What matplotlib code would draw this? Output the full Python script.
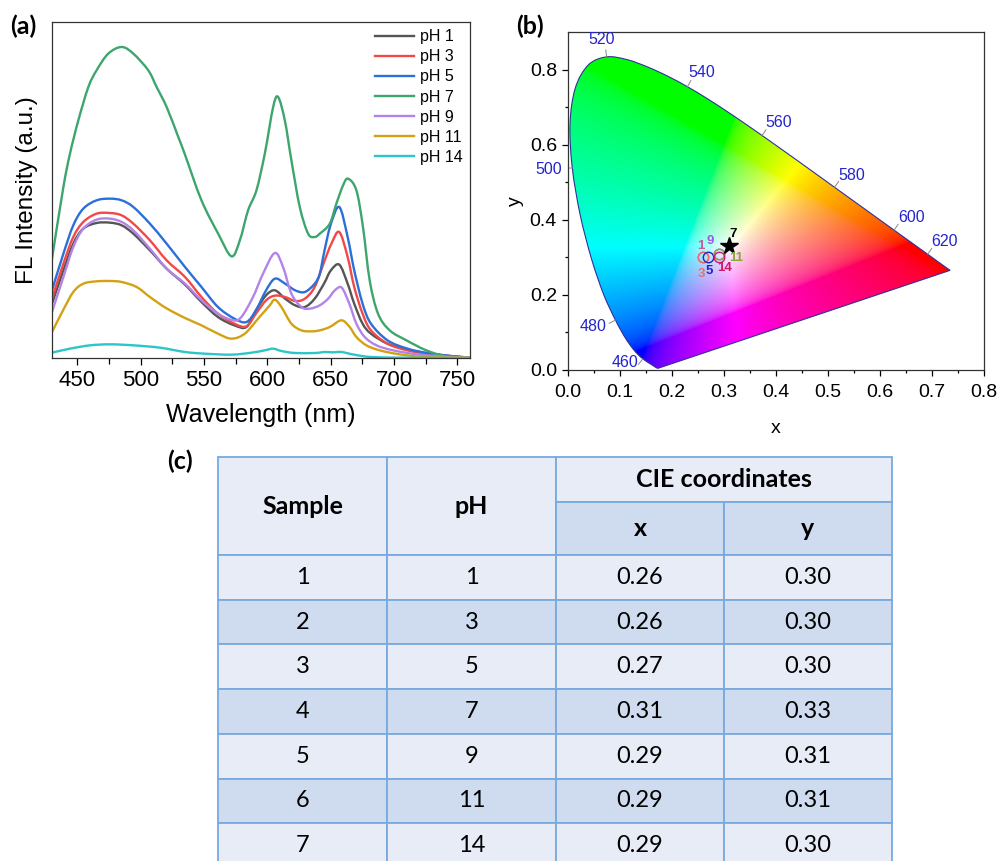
import numpy as np
import matplotlib.pyplot as plt
from matplotlib.patches import PathPatch, Rectangle
from matplotlib.path import Path

plt.rcParams['font.family'] = ['Liberation Sans', 'DejaVu Sans']

# ---------------- (a) FL spectra (arb. units) ----------------
wl_ph1 = [430, 439, 446.8, 454.7, 465.2, 475.8, 485, 494.2, 507.3, 520.5, 535, 548, 561, 574, 583.5, 591,
          599, 606, 614, 622, 629.6, 637.4, 645, 650, 656.8, 663.4, 668.6, 675.2, 681.8, 694.9, 710.7, 729.1, 752.8, 760]
int_ph1 = [163, 263, 343, 388, 405, 406, 398, 373, 323, 268, 220, 168, 123, 98, 93, 143,
           188, 203, 178, 158, 153, 178, 225, 262, 280, 223, 163, 103, 73, 43, 25, 13, 3, 2]

wl_ph3 = [430, 439, 446.8, 454.7, 465.2, 475.8, 485, 494.2, 507.3, 520.5, 535, 548, 561, 574, 583.5, 591,
          599, 606, 614, 622, 629.6, 637.4, 645, 650.6, 656.8, 663.4, 668.6, 675.2, 681.8, 694.9, 710.7, 729.1, 752.8, 760]
int_ph3 = [178, 283, 363, 408, 433, 435, 428, 403, 353, 293, 243, 183, 133, 103, 95, 133,
           173, 187, 183, 171, 178, 213, 290, 343, 378, 303, 213, 133, 83, 43, 23, 11, 3, 2]

wl_ph5 = [430, 439, 446.8, 454.7, 465.2, 475.8, 485, 494.2, 507.3, 520.5, 535, 548, 561, 574, 583.5, 591,
          599, 606, 614, 622, 629.6, 637.4, 641.4, 645, 650, 656.8, 663.4, 668.6, 675.2, 681.8, 694.9, 710.7,
          729.1, 752.8, 760]
int_ph5 = [203, 313, 398, 448, 473, 478, 473, 453, 403, 343, 273, 213, 153, 118, 108, 143,
           203, 238, 223, 203, 198, 223, 253, 320, 400, 453, 363, 263, 163, 103, 53, 28,
           13, 3, 2]

wl_ph7 = [430, 439, 444.2, 450.8, 458.7, 465.2, 474.4, 485, 494.2, 506, 512.6, 520.5, 529.7, 535, 548,
          561.2, 571.7, 578.3, 584.8, 591.4, 598, 604.6, 608.5, 613.8, 619, 625.6, 632.2, 637.4, 641.4,
          649.3, 654.5, 659.8, 663.7, 670.3, 675.5, 680.8, 687.4, 696.6, 709.8, 725.5, 741.3, 760]
int_ph7 = [298, 513, 613, 713, 813, 863, 913, 933, 913, 863, 813, 753, 663, 610, 473,
           373, 305, 353, 443, 503, 613, 753, 783, 713, 593, 453, 373, 363, 373,
           403, 463, 518, 538, 503, 393, 233, 133, 83, 53, 23, 5, 2]

wl_ph9 = [430, 439, 446.8, 454.7, 465.2, 475.8, 485, 494.2, 507.3, 520.5, 535, 548, 561, 573, 579.5,
          588.7, 596.6, 605.9, 612.4, 619, 626.9, 633.5, 641.4, 648, 653.3, 658.7, 664.7, 670.3, 676.9,
          686.2, 699.3, 720.4, 746.7, 760]
int_ph9 = [138, 243, 333, 388, 415, 418, 408, 383, 328, 268, 223, 173, 133, 113, 123,
           183, 253, 315, 273, 193, 153, 148, 158, 178, 203, 211, 163, 103, 63,
           38, 23, 10, 3, 2]

wl_ph11 = [430, 439, 446.8, 454.7, 465.2, 475.8, 485, 496.8, 507.3, 520, 535, 548, 561, 571.7, 582.2,
           592.7, 601.9, 605.9, 611.1, 619, 626.9, 634.8, 641.4, 649.3, 658.5, 665, 670.3, 678.2, 688.7,
           704.5, 725.5, 760]
int_ph11 = [78, 145, 198, 223, 230, 231, 228, 213, 183, 150, 120, 98, 73, 58, 73,
            118, 158, 175, 153, 103, 83, 80, 83, 93, 113, 93, 63, 38, 23,
            11, 3, 1]

wl_ph14 = [430, 444.2, 460, 475.8, 494.2, 515.2, 535, 550.6, 571.7, 587.5, 598, 604.6, 611.1, 621.7,
           637.4, 645.3, 652, 658.5, 668.6, 681.8, 708, 760]
int_ph14 = [16, 28, 38, 41, 38, 31, 18, 13, 10, 16, 23, 28, 21, 15,
            15, 18, 17, 18, 10, 3, 1, 0]

series_labels = ['pH 1', 'pH 3', 'pH 5', 'pH 7', 'pH 9', 'pH 11', 'pH 14']
series_colors = ['#555555', '#f24848', '#2b6fd8', '#3da56e', '#b483e6', '#d3a112', '#2cc5c9']

# ---------------- (b)/(c) CIE coordinates ----------------
samples = [1, 2, 3, 4, 5, 6, 7]
ph_values = [1, 3, 5, 7, 9, 11, 14]
cie_x = [0.26, 0.26, 0.27, 0.31, 0.29, 0.29, 0.29]
cie_y = [0.30, 0.30, 0.30, 0.33, 0.31, 0.31, 0.30]
point_colors = ['#c2609c', '#e8706a', '#2424bb', '#000000', '#9a5fd8', '#8aa838', '#cc1a6a']
label_offsets = [(-2, 8), (-1, -12), (0.5, -10), (3, 9), (-6, 9), (12.5, -3), (4, -8)]  # in points

# CIE 1931 spectral locus (nm, x, y)
locus_nm = [380, 385, 390, 395, 400, 405, 410, 415, 420, 425, 430, 435, 440, 445, 450, 455, 460, 465,
            470, 475, 480, 485, 490, 495, 500, 505, 510, 515, 520, 525, 530, 535, 540, 545, 550, 555,
            560, 565, 570, 575, 580, 585, 590, 595, 600, 605, 610, 615, 620, 625, 630, 635, 640, 645,
            650, 655, 660, 665, 670, 680, 700]
locus_x = [0.1741, 0.1740, 0.1738, 0.1736, 0.1733, 0.1730, 0.1726, 0.1721, 0.1714, 0.1703, 0.1689,
           0.1669, 0.1644, 0.1611, 0.1566, 0.1510, 0.1440, 0.1355, 0.1241, 0.1096, 0.0913, 0.0687,
           0.0454, 0.0235, 0.0082, 0.0039, 0.0139, 0.0389, 0.0743, 0.1142, 0.1547, 0.1929, 0.2296,
           0.2658, 0.3016, 0.3373, 0.3731, 0.4087, 0.4441, 0.4788, 0.5125, 0.5448, 0.5752, 0.6029,
           0.6270, 0.6482, 0.6658, 0.6801, 0.6915, 0.7006, 0.7079, 0.7140, 0.7190, 0.7230, 0.7260,
           0.7283, 0.7300, 0.7311, 0.7320, 0.7334, 0.7347]
locus_y = [0.0050, 0.0050, 0.0049, 0.0049, 0.0048, 0.0048, 0.0048, 0.0048, 0.0051, 0.0058, 0.0069,
           0.0086, 0.0109, 0.0138, 0.0177, 0.0227, 0.0297, 0.0399, 0.0578, 0.0868, 0.1327, 0.2007,
           0.2950, 0.4127, 0.5384, 0.6548, 0.7502, 0.8120, 0.8338, 0.8262, 0.8059, 0.7816, 0.7543,
           0.7243, 0.6923, 0.6589, 0.6245, 0.5896, 0.5547, 0.5202, 0.4866, 0.4544, 0.4242, 0.3965,
           0.3725, 0.3514, 0.3340, 0.3197, 0.3083, 0.2993, 0.2920, 0.2859, 0.2809, 0.2770, 0.2740,
           0.2717, 0.2700, 0.2689, 0.2680, 0.2666, 0.2653]
marked_nm = [460, 480, 500, 520, 540, 560, 580, 600, 620]
marked_label_xy = [(0.110, 0.021), (0.048, 0.117), (-0.038, 0.535), (0.065, 0.879), (0.258, 0.791),
                   (0.406, 0.658), (0.546, 0.519), (0.660, 0.405), (0.725, 0.341)]


def smooth_path(xs, ys, close=False):
    # draws a smooth curve through the given points (Catmull-Rom as cubic Bezier)
    P = np.column_stack([xs, ys]).astype(float)
    verts, codes = [P[0]], [Path.MOVETO]
    n = len(P)
    for i in range(n - 1):
        p0 = P[i - 1] if i > 0 else P[i]
        p1, p2 = P[i], P[i + 1]
        p3 = P[i + 2] if i + 2 < n else P[i + 1]
        verts += [p1 + (p2 - p0) / 6, p2 - (p3 - p1) / 6, p2]
        codes += [Path.CURVE4] * 3
    if close:
        verts.append(P[0])
        codes.append(Path.CLOSEPOLY)
    return Path(verts, codes)


W, H = 1002, 861
fig = plt.figure(figsize=(W / 100, H / 100), dpi=100)

# ================= (a) =================
ax = fig.add_axes([52 / W, 1 - 358 / H, 418 / W, 336 / H])
all_wl = [wl_ph1, wl_ph3, wl_ph5, wl_ph7, wl_ph9, wl_ph11, wl_ph14]
all_int = [int_ph1, int_ph3, int_ph5, int_ph7, int_ph9, int_ph11, int_ph14]
for wl, it, c, lab in zip(all_wl, all_int, series_colors, series_labels):
    ax.add_patch(PathPatch(smooth_path(wl, it), facecolor='none', edgecolor=c, lw=1.7, capstyle='round',
                           joinstyle='round'))
    ax.plot([], [], color=c, lw=1.7, label=lab)
ax.set_xlim(430, 760)
ax.set_ylim(0, 1008)
ax.set_yticks([])
ax.set_xticks(np.arange(450, 751, 50))
ax.set_xticks(np.arange(475, 751, 50), minor=True)
ax.tick_params(axis='x', which='major', direction='out', length=5, width=0.9, labelsize=16, pad=4)
ax.tick_params(axis='x', which='minor', direction='out', length=4, width=0.9)
for s in ax.spines.values():
    s.set_linewidth(0.9)
    s.set_color('#333333')
ax.set_xlabel('Wavelength (nm)', fontsize=18, labelpad=8)
ax.set_ylabel('FL Intensity (a.u.)', fontsize=17.5, labelpad=10)
ax.legend(loc='upper right', frameon=False, fontsize=11.5, handlelength=2.5, handletextpad=0.35,
          labelspacing=0.32, borderaxespad=0.15, borderpad=0.3)

# ================= (b) =================
bx = fig.add_axes([568 / W, 1 - 370 / H, 416 / W, 338 / H])
gx = np.linspace(0, 0.8, 500)
gy = np.linspace(0.0005, 0.9, 500)
GX, GY = np.meshgrid(gx, gy)
XYZ = np.stack([GX / GY, np.ones_like(GX), (1 - GX - GY) / GY], axis=-1)
M = np.array([[3.2406, -1.5372, -0.4986], [-0.9689, 1.8758, 0.0415], [0.0557, -0.2040, 1.0570]])
rgb = np.clip(XYZ @ M.T, 0, None)
rgb = rgb / np.maximum(rgb.max(axis=-1, keepdims=True), 1e-9)
rgb = np.where(rgb <= 0.0031308, 12.92 * rgb, 1.055 * np.power(rgb, 1 / 2.4) - 0.055)
img = bx.imshow(rgb, extent=(0, 0.8, 0, 0.9), origin='lower', aspect='auto', interpolation='bilinear')
locus = PathPatch(smooth_path(locus_x, locus_y, close=True), facecolor='none', edgecolor='#30309a', lw=0.8)
bx.add_patch(locus)
img.set_clip_path(locus)

# wavelength tick marks & labels
sx, sy = 520.0, 375.6  # px per data unit
lx, ly = np.array(locus_x), np.array(locus_y)
for nm, (tx, ty) in zip(marked_nm, marked_label_xy):
    i = locus_nm.index(nm)
    dx = (lx[i + 1] - lx[i - 1]) * sx
    dy = (ly[i + 1] - ly[i - 1]) * sy
    n = np.hypot(dx, dy)
    nx, ny = -dy / n, dx / n
    bx.plot([lx[i], lx[i] + nx * 7 / sx], [ly[i], ly[i] + ny * 7 / sy], color='#888888', lw=0.7)
    bx.text(tx, ty, str(nm), color='#2424cc', fontsize=11.5, ha='center', va='center', clip_on=False)

for k in range(len(samples)):
    if ph_values[k] == 7:
        bx.plot(cie_x[k], cie_y[k], marker='*', ms=13, color='black', mec='black', ls='none', zorder=5)
    else:
        bx.plot(cie_x[k], cie_y[k], marker='o', ms=7.5, mfc='none', mec=point_colors[k], mew=1.0,
                ls='none', zorder=4)
    bx.annotate(str(ph_values[k]), (cie_x[k], cie_y[k]), xytext=label_offsets[k], textcoords='offset points',
                color=point_colors[k], fontsize=9.5, fontweight='bold', ha='center', va='center', zorder=6)

bx.set_xlim(0, 0.8)
bx.set_ylim(0, 0.9)
bx.set_xticks(np.arange(0, 0.81, 0.1))
bx.set_xticks(np.arange(0.05, 0.8, 0.1), minor=True)
bx.set_yticks(np.arange(0, 0.81, 0.2))
bx.set_yticks(np.arange(0.1, 0.9, 0.2), minor=True)
bx.xaxis.set_major_formatter(plt.FormatStrFormatter('%.1f'))
bx.yaxis.set_major_formatter(plt.FormatStrFormatter('%.1f'))
bx.tick_params(which='major', direction='out', length=4, width=0.9, labelsize=14, pad=4)
bx.tick_params(axis='x', which='major', pad=6)
bx.tick_params(which='minor', direction='out', length=2.5, width=0.9)
for s in bx.spines.values():
    s.set_linewidth(0.9)
    s.set_color('#333333')
bx.set_xlabel('x', fontsize=14, labelpad=14)
bx.set_ylabel('y', fontsize=14, labelpad=4)

# panel labels
plab = dict(fontsize=18, fontweight='bold', family=['Lato', 'DejaVu Sans'], ha='center', va='center')
fig.text(23 / W, 1 - 26 / H, '(a)', **plab)
fig.text(530 / W, 1 - 26 / H, '(b)', **plab)
fig.text(180 / W, 1 - 461 / H, '(c)', **plab)

# ================= (c) table =================
col_x = [218, 387, 556, 724, 892]
head_y = [457, 502, 555]
row_h = 44.7
light, dark, edge = '#e8ecf6', '#cfdbee', '#78aadf'
tx_ = fig.add_axes([0, 0, 1, 1])
tx_.set_xlim(0, W)
tx_.set_ylim(H, 0)
tx_.axis('off')
hfont = dict(fontsize=18, fontweight='bold', family=['Lato', 'DejaVu Sans'], ha='center', va='center')
bfont = dict(fontsize=17, family=['Lato', 'DejaVu Sans'], ha='center', va='center')


def cell(x0, x1, y0, y1, fc):
    tx_.add_patch(Rectangle((x0, y0), x1 - x0, y1 - y0, facecolor=fc, edgecolor=edge, lw=1.3))


cell(col_x[0], col_x[1], head_y[0], head_y[2], light)
cell(col_x[1], col_x[2], head_y[0], head_y[2], light)
cell(col_x[2], col_x[4], head_y[0], head_y[1], light)
cell(col_x[2], col_x[3], head_y[1], head_y[2], dark)
cell(col_x[3], col_x[4], head_y[1], head_y[2], dark)
hy = (head_y[0] + head_y[2]) / 2
tx_.text((col_x[0] + col_x[1]) / 2, hy, 'Sample', **hfont)
tx_.text((col_x[1] + col_x[2]) / 2, hy, 'pH', **hfont)
tx_.text((col_x[2] + col_x[4]) / 2, (head_y[0] + head_y[1]) / 2, 'CIE coordinates', **hfont)
tx_.text((col_x[2] + col_x[3]) / 2, (head_y[1] + head_y[2]) / 2, 'x', **hfont)
tx_.text((col_x[3] + col_x[4]) / 2, (head_y[1] + head_y[2]) / 2, 'y', **hfont)

for r in range(len(samples)):
    y0 = head_y[2] + r * row_h
    y1 = y0 + row_h
    fc = light if r % 2 == 0 else dark
    vals = [str(samples[r]), str(ph_values[r]), '%.2f' % cie_x[r], '%.2f' % cie_y[r]]
    for c in range(4):
        cell(col_x[c], col_x[c + 1], y0, y1, fc)
        tx_.text((col_x[c] + col_x[c + 1]) / 2, (y0 + y1) / 2, vals[c], **bfont)

fig.savefig('out.png', dpi=100)
